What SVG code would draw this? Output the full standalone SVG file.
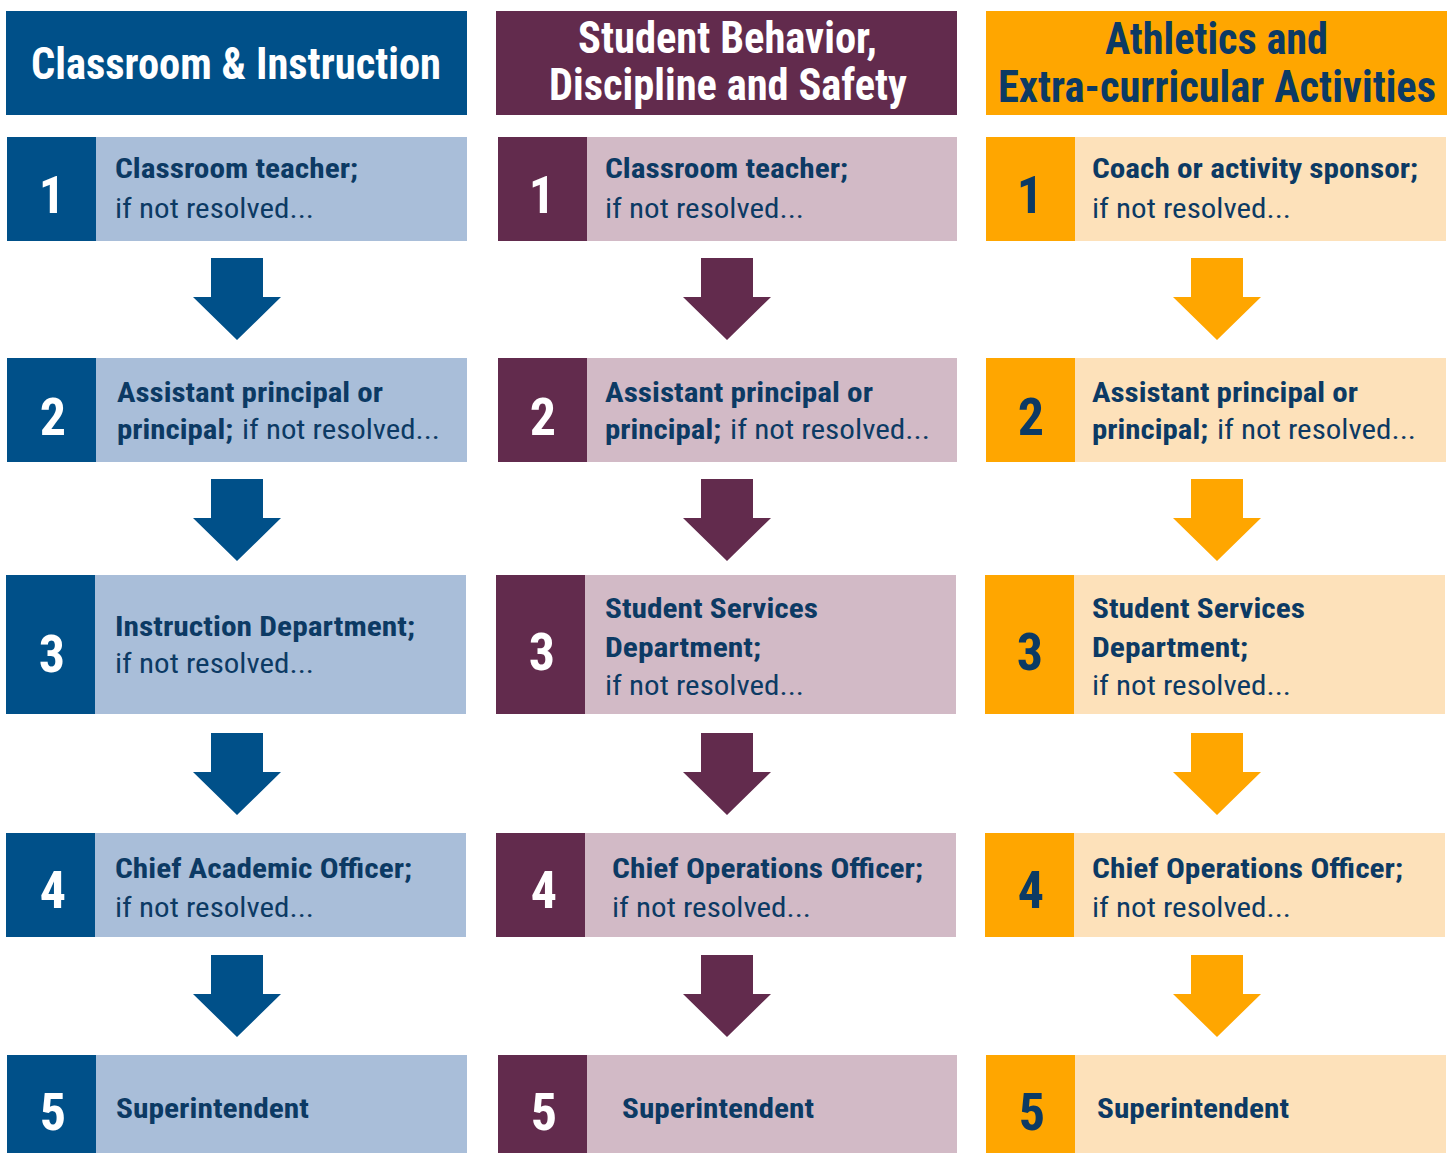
<svg xmlns="http://www.w3.org/2000/svg" width="1449" height="1153" viewBox="0 0 1449 1153">
<style>
text{font-family:"Roboto","Liberation Sans Narrow","Liberation Sans",sans-serif;font-stretch:condensed}
.hd{font-size:44px;font-weight:700;text-anchor:middle}
.b{font-size:28px;font-weight:700;fill:#0c3a64}
.r{font-size:28px;font-weight:400;fill:#0c3a64}
.num{font-size:52px;font-weight:700;text-anchor:middle}
.w{fill:#ffffff}
.n{fill:#0c3a64}
.c1d{fill:#005089}.c1l{fill:#a9bed9}
.c2d{fill:#622b4d}.c2l{fill:#d2bac6}
.c3d{fill:#ffa600}.c3l{fill:#fde1ba}
</style>
<defs>
<path id="arr" d="M-26 0H26V39H44L0 82L-44 39H-26Z"/>
</defs>
<rect width="1449" height="1153" fill="#ffffff"/>

<!-- Headers -->
<g id="h1"><rect class="c1d" x="6" y="11" width="461" height="104"/><text class="hd w" x="236" y="79" textLength="410" lengthAdjust="spacingAndGlyphs">Classroom &amp; Instruction</text></g>
<g id="h2"><rect class="c2d" x="496" y="11" width="461" height="104"/><text class="hd w" x="727.5" y="53" textLength="299" lengthAdjust="spacingAndGlyphs">Student Behavior,</text><text class="hd w" x="728" y="100" textLength="358" lengthAdjust="spacingAndGlyphs">Discipline and Safety</text></g>
<g id="h3"><rect class="c3d" x="986" y="11" width="461" height="104"/><text class="hd n" x="1216.5" y="54" textLength="223" lengthAdjust="spacingAndGlyphs">Athletics and</text><text class="hd n" x="1217" y="102" textLength="438" lengthAdjust="spacingAndGlyphs">Extra-curricular Activities</text></g>

<!-- Column 1 -->
<g id="c1s1"><rect class="c1l" x="7" y="137" width="460" height="104"/><rect class="c1d" x="7" y="137" width="89" height="104"/><text class="num w" x="52" y="213">1</text><text class="b" x="115" y="178" textLength="243" lengthAdjust="spacingAndGlyphs">Classroom teacher;</text><text class="r" x="115" y="218" textLength="199" lengthAdjust="spacingAndGlyphs">if not resolved...</text></g>
<g id="c1s2"><rect class="c1l" x="7" y="358" width="460" height="104"/><rect class="c1d" x="7" y="358" width="89" height="104"/><text class="num w" x="53" y="435">2</text><text class="b" x="117" y="402" textLength="266" lengthAdjust="spacingAndGlyphs">Assistant principal or</text><text class="b" x="117" y="439" textLength="116" lengthAdjust="spacingAndGlyphs">principal;</text><text class="r" x="242" y="439" textLength="198" lengthAdjust="spacingAndGlyphs">if not resolved...</text></g>
<g id="c1s3"><rect class="c1l" x="6" y="575" width="460" height="139"/><rect class="c1d" x="6" y="575" width="89" height="139"/><text class="num w" x="52" y="672">3</text><text class="b" x="115" y="636" textLength="300" lengthAdjust="spacingAndGlyphs">Instruction Department;</text><text class="r" x="115" y="673" textLength="199" lengthAdjust="spacingAndGlyphs">if not resolved...</text></g>
<g id="c1s4"><rect class="c1l" x="6" y="833" width="460" height="104"/><rect class="c1d" x="6" y="833" width="89" height="104"/><text class="num w" x="53" y="908">4</text><text class="b" x="115" y="878" textLength="297" lengthAdjust="spacingAndGlyphs">Chief Academic Officer;</text><text class="r" x="115" y="917" textLength="199" lengthAdjust="spacingAndGlyphs">if not resolved...</text></g>
<g id="c1s5"><rect class="c1l" x="7" y="1055" width="460" height="98"/><rect class="c1d" x="7" y="1055" width="89" height="98"/><text class="num w" x="53" y="1130">5</text><text class="b" x="116" y="1118" textLength="193" lengthAdjust="spacingAndGlyphs">Superintendent</text></g>

<!-- Column 2 -->
<g id="c2s1"><rect class="c2l" x="498" y="137" width="459" height="104"/><rect class="c2d" x="498" y="137" width="89" height="104"/><text class="num w" x="542" y="213">1</text><text class="b" x="605" y="178" textLength="243" lengthAdjust="spacingAndGlyphs">Classroom teacher;</text><text class="r" x="605" y="218" textLength="199" lengthAdjust="spacingAndGlyphs">if not resolved...</text></g>
<g id="c2s2"><rect class="c2l" x="498" y="358" width="459" height="104"/><rect class="c2d" x="498" y="358" width="89" height="104"/><text class="num w" x="543" y="435">2</text><text class="b" x="605" y="402" textLength="268" lengthAdjust="spacingAndGlyphs">Assistant principal or</text><text class="b" x="605" y="439" textLength="116" lengthAdjust="spacingAndGlyphs">principal;</text><text class="r" x="730" y="439" textLength="200" lengthAdjust="spacingAndGlyphs">if not resolved...</text></g>
<g id="c2s3"><rect class="c2l" x="496" y="575" width="460" height="139"/><rect class="c2d" x="496" y="575" width="89" height="139"/><text class="num w" x="542" y="670">3</text><text class="b" x="605" y="618" textLength="213" lengthAdjust="spacingAndGlyphs">Student Services</text><text class="b" x="605" y="657" textLength="156" lengthAdjust="spacingAndGlyphs">Department;</text><text class="r" x="605" y="695" textLength="199" lengthAdjust="spacingAndGlyphs">if not resolved...</text></g>
<g id="c2s4"><rect class="c2l" x="496" y="833" width="460" height="104"/><rect class="c2d" x="496" y="833" width="89" height="104"/><text class="num w" x="544" y="908">4</text><text class="b" x="612" y="878" textLength="311" lengthAdjust="spacingAndGlyphs">Chief Operations Officer;</text><text class="r" x="612" y="917" textLength="199" lengthAdjust="spacingAndGlyphs">if not resolved...</text></g>
<g id="c2s5"><rect class="c2l" x="498" y="1055" width="459" height="98"/><rect class="c2d" x="498" y="1055" width="89" height="98"/><text class="num w" x="544" y="1130">5</text><text class="b" x="622" y="1118" textLength="192" lengthAdjust="spacingAndGlyphs">Superintendent</text></g>

<!-- Column 3 -->
<g id="c3s1"><rect class="c3l" x="986" y="137" width="460" height="104"/><rect class="c3d" x="986" y="137" width="89" height="104"/><text class="num n" x="1030" y="213">1</text><text class="b" x="1092" y="178" textLength="326" lengthAdjust="spacingAndGlyphs">Coach or activity sponsor;</text><text class="r" x="1092" y="218" textLength="199" lengthAdjust="spacingAndGlyphs">if not resolved...</text></g>
<g id="c3s2"><rect class="c3l" x="986" y="358" width="460" height="104"/><rect class="c3d" x="986" y="358" width="89" height="104"/><text class="num n" x="1031" y="435">2</text><text class="b" x="1092" y="402" textLength="266" lengthAdjust="spacingAndGlyphs">Assistant principal or</text><text class="b" x="1092" y="439" textLength="116" lengthAdjust="spacingAndGlyphs">principal;</text><text class="r" x="1217" y="439" textLength="199" lengthAdjust="spacingAndGlyphs">if not resolved...</text></g>
<g id="c3s3"><rect class="c3l" x="985" y="575" width="460" height="139"/><rect class="c3d" x="985" y="575" width="89" height="139"/><text class="num n" x="1030" y="670">3</text><text class="b" x="1092" y="618" textLength="213" lengthAdjust="spacingAndGlyphs">Student Services</text><text class="b" x="1092" y="657" textLength="156" lengthAdjust="spacingAndGlyphs">Department;</text><text class="r" x="1092" y="695" textLength="199" lengthAdjust="spacingAndGlyphs">if not resolved...</text></g>
<g id="c3s4"><rect class="c3l" x="985" y="833" width="460" height="104"/><rect class="c3d" x="985" y="833" width="89" height="104"/><text class="num n" x="1031" y="908">4</text><text class="b" x="1092" y="878" textLength="311" lengthAdjust="spacingAndGlyphs">Chief Operations Officer;</text><text class="r" x="1092" y="917" textLength="199" lengthAdjust="spacingAndGlyphs">if not resolved...</text></g>
<g id="c3s5"><rect class="c3l" x="986" y="1055" width="460" height="98"/><rect class="c3d" x="986" y="1055" width="89" height="98"/><text class="num n" x="1032" y="1130">5</text><text class="b" x="1097" y="1118" textLength="192" lengthAdjust="spacingAndGlyphs">Superintendent</text></g>

<!-- Connectors -->
<g id="connectors">
<use href="#arr" class="c1d" x="237" y="258"/>
<use href="#arr" class="c1d" x="237" y="479"/>
<use href="#arr" class="c1d" x="237" y="733"/>
<use href="#arr" class="c1d" x="237" y="955"/>
<use href="#arr" class="c2d" x="727" y="258"/>
<use href="#arr" class="c2d" x="727" y="479"/>
<use href="#arr" class="c2d" x="727" y="733"/>
<use href="#arr" class="c2d" x="727" y="955"/>
<use href="#arr" class="c3d" x="1217" y="258"/>
<use href="#arr" class="c3d" x="1217" y="479"/>
<use href="#arr" class="c3d" x="1217" y="733"/>
<use href="#arr" class="c3d" x="1217" y="955"/>
</g>
</svg>
